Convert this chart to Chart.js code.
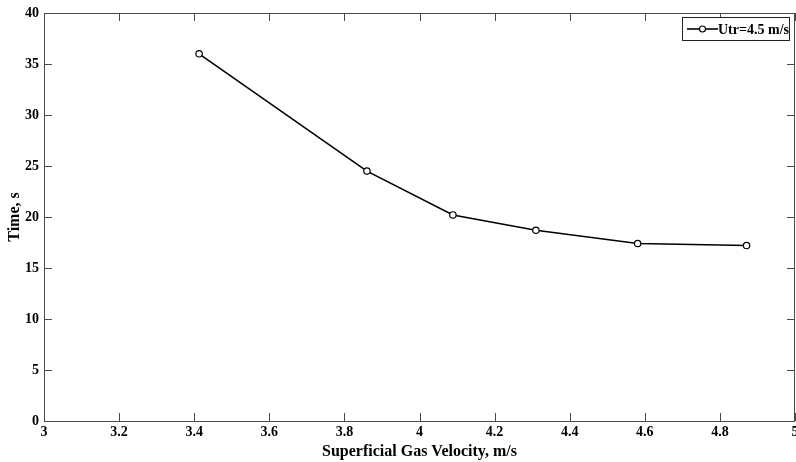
<!DOCTYPE html>
<html>
<head>
<meta charset="utf-8">
<script src="https://cdn.jsdelivr.net/npm/chart.js@4/dist/chart.umd.min.js"></script>
<style>
  html, body { margin: 0; padding: 0; background: #ffffff; }
  #wrap { width: 796px; height: 462px; position: relative; }
</style>
</head>
<body>
<div id="wrap"><canvas id="c" width="796" height="462"></canvas></div>
<script>
// ---- data ----
const velocity = [3.413, 3.860, 4.089, 4.310, 4.581, 4.871];   // m/s
const timeSec  = [36.0, 24.5, 20.2, 18.7, 17.4, 17.2];          // s
const seriesLabel = 'Utr=4.5 m/s';
const xTitle = 'Superficial Gas Velocity, m/s';
const yTitle = 'Time, s';
const xRange = [3, 5];
const yRange = [0, 40];

const points = velocity.map((v, i) => ({ x: v, y: timeSec[i] }));

const FONT = '"Liberation Serif", "Times New Roman", serif';
const AXIS_COLOR = '#4a4a4a';
const TICK_LEN = 8;

const boxPlugin = {
  id: 'matlabBox',
  afterDatasetsDraw(chart) {
    const ctx = chart.ctx;
    const a = chart.chartArea;
    const xs = chart.scales.x, ys = chart.scales.y;
    ctx.save();
    ctx.strokeStyle = AXIS_COLOR;
    ctx.lineWidth = 1;
    ctx.strokeRect(Math.round(a.left) + 0.5, Math.round(a.top) + 0.5,
                   Math.round(a.right - a.left) - 1, Math.round(a.bottom - a.top));
    ctx.beginPath();
    xs.ticks.forEach(t => {
      const px = Math.round(xs.getPixelForValue(t.value)) + 0.5;
      ctx.moveTo(px, a.bottom); ctx.lineTo(px, a.bottom - TICK_LEN);
      ctx.moveTo(px, a.top); ctx.lineTo(px, a.top + TICK_LEN);
    });
    ys.ticks.forEach(t => {
      const py = Math.round(ys.getPixelForValue(t.value)) + 0.5;
      ctx.moveTo(a.left, py); ctx.lineTo(a.left + TICK_LEN, py);
      ctx.moveTo(a.right, py); ctx.lineTo(a.right - TICK_LEN, py);
    });
    ctx.stroke();
    ctx.restore();
  },
  afterDraw(chart) {
    const ctx = chart.ctx;
    const ds = chart.data.datasets[0];
    const bx = 682, by = 17, bw = 107, bh = 23;
    ctx.save();
    ctx.fillStyle = '#ffffff';
    ctx.fillRect(bx, by, bw, bh);
    ctx.strokeStyle = '#222222';
    ctx.lineWidth = 1;
    ctx.strokeRect(bx + 0.5, by + 0.5, bw, bh);
    const cy = by + bh / 2 + 0.5;
    ctx.strokeStyle = '#000000';
    ctx.lineWidth = 1.6;
    ctx.beginPath();
    ctx.moveTo(bx + 5, cy); ctx.lineTo(bx + 36, cy);
    ctx.stroke();
    ctx.lineWidth = 1.2;
    ctx.fillStyle = '#ffffff';
    ctx.beginPath();
    ctx.arc(bx + 20.5, cy, 3, 0, Math.PI * 2);
    ctx.fill(); ctx.stroke();
    ctx.fillStyle = '#000000';
    ctx.font = 'bold 14px ' + FONT;
    ctx.textBaseline = 'middle';
    ctx.textAlign = 'left';
    ctx.fillText(ds.label, bx + 36, cy + 1);
    ctx.restore();
  }
};

new Chart(document.getElementById('c'), {
  type: 'line',
  data: {
    datasets: [{
      label: seriesLabel,
      data: points,
      borderColor: '#000000',
      borderWidth: 1.6,
      pointRadius: 3.2,
      pointBorderWidth: 1.2,
      pointBorderColor: '#000000',
      pointBackgroundColor: '#ffffff',
      tension: 0,
      fill: false
    }]
  },
  options: {
    responsive: false,
    animation: false,
    devicePixelRatio: 1,
    layout: { autoPadding: false, padding: { top: 13, right: 1, left: 0, bottom: 0 } },
    plugins: { legend: { display: false }, tooltip: { enabled: false } },
    scales: {
      x: {
        type: 'linear',
        min: xRange[0], max: xRange[1],
        grid: { display: false, drawTicks: false },
        border: { display: false },
        ticks: {
          stepSize: 0.2,
          padding: 3,
          color: '#000000',
          font: { family: FONT, size: 14, weight: 'bold' },
          maxRotation: 0,
          autoSkip: false,
          callback: v => String(Number(v.toFixed(1)))
        },
        title: {
          display: true, text: xTitle, color: '#000000',
          font: { family: FONT, size: 16, weight: 'bold' },
          padding: { top: 0, bottom: 1 }
        },
        afterFit: s => { s.height = 41; s.paddingLeft = 0; s.paddingRight = 0; }
      },
      y: {
        type: 'linear',
        min: yRange[0], max: yRange[1],
        grid: { display: false, drawTicks: false },
        border: { display: false },
        ticks: {
          stepSize: 5,
          padding: 5,
          color: '#000000',
          font: { family: FONT, size: 14, weight: 'bold' }
        },
        title: {
          display: true, text: yTitle, color: '#000000',
          font: { family: FONT, size: 16, weight: 'bold' },
          padding: { top: 5, bottom: 0 }
        },
        afterFit: s => { s.width = 44; s.paddingTop = 0; s.paddingBottom = 0; }
      }
    }
  },
  plugins: [boxPlugin]
});
</script>
</body>
</html>
